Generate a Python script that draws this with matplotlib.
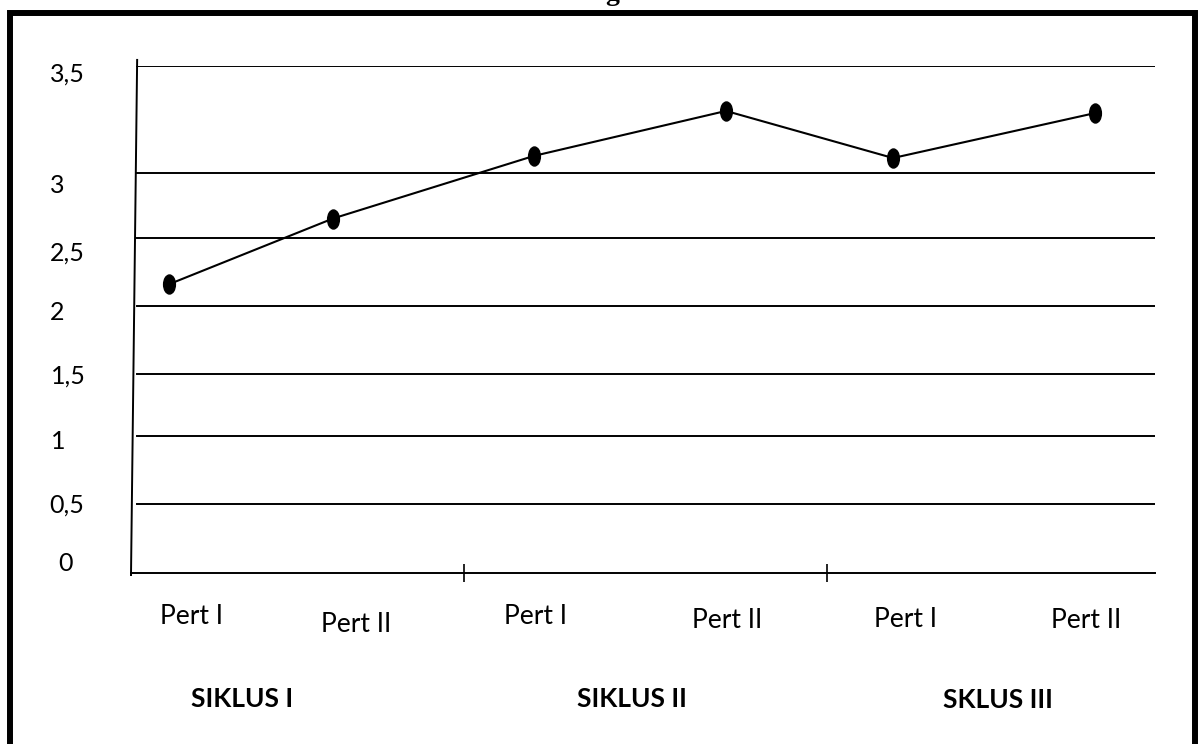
import numpy as np
import matplotlib
matplotlib.use("Agg")
import matplotlib.pyplot as plt
from matplotlib.path import Path
from matplotlib.transforms import Affine2D
from matplotlib.patches import Rectangle

# data
pertemuan = ["Pert I", "Pert II", "Pert I", "Pert II", "Pert I", "Pert II"]
nilai = [2.16, 2.65, 3.08, 3.29, 3.07, 3.28]
siklus = ["SIKLUS I", "SIKLUS II", "SKLUS III"]
y_ticks = [0, 0.5, 1, 1.5, 2, 2.5, 3, 3.5]
y_labels = ["0", "0,5", "1", "1,5", "2", "2,5", "3", "3,5"]

W, H = 1201, 744
ax_left, ax_right, ax_bottom, ax_top = 131, 1155, 573, 66

# hand drawn grid: spacing between lines is not even
grid_px = [573, 504, 436, 374, 306, 238, 173, 66]
grid_frac = [(ax_bottom - p) / (ax_bottom - ax_top) for p in grid_px]

def y_fwd(v):
    return np.interp(v, y_ticks, grid_frac)

def y_inv(f):
    return np.interp(f, grid_frac, y_ticks)

# x positions of the points are not evenly spaced either
x_knots = [-0.232, 0, 1, 1.5, 2, 3, 3.5, 4, 5, 5.3]
x_px = [131, 169, 333, 464, 534, 726, 827, 893, 1095, 1155]
x_frac = [(p - ax_left) / (ax_right - ax_left) for p in x_px]

def x_fwd(v):
    return np.interp(v, x_knots, x_frac)

def x_inv(f):
    return np.interp(f, x_frac, x_knots)

plt.rcParams['font.family'] = ['Lato', 'DejaVu Sans']

fig = plt.figure(figsize=(W / 100, H / 100), dpi=100)
ax = fig.add_axes([ax_left / W, 1 - ax_bottom / H,
                   (ax_right - ax_left) / W, (ax_bottom - ax_top) / H])
ax.set_xscale('function', functions=(x_fwd, x_inv))
ax.set_yscale('function', functions=(y_fwd, y_inv))
ax.set_xlim(x_knots[0], x_knots[-1])
ax.set_ylim(0, 3.5)

for s in ['top', 'right', 'left']:
    ax.spines[s].set_visible(False)
ax.spines['bottom'].set_linewidth(1.4)

# horizontal lines
for v in y_ticks[1:]:
    ax.axhline(v, xmin=0.006, xmax=1, color='black', lw=1.4)

# slanted y axis line
ax.plot([0.006, 0.0], [1.012, -0.004], color='black', lw=1.4,
        transform=ax.transAxes, clip_on=False)

# boundaries between cycles
ax.set_xticks([1.5, 3.5])
ax.set_xticklabels([])
ax.tick_params(axis='x', direction='inout', length=13, width=1.2)
ax.set_yticks([])

# ellipse marker
ellipse = Path.unit_circle().transformed(Affine2D().scale(0.62, 1.0))
x = np.arange(len(nilai))
ax.plot(x, nilai, color='black', lw=1.5, marker=ellipse, markersize=13.7,
        markerfacecolor='black', markeredgecolor='black', clip_on=False)

# y labels
y_dx = [-73, -82, -80, -80, -81, -81, -81, -81]
y_dy = [2, -9, -13, -10, -14, -23, -20, -16]
for v, lab, dx, dy in zip(y_ticks, y_labels, y_dx, y_dy):
    ax.annotate(lab, xy=(0, v), xycoords=('axes fraction', 'data'),
                xytext=(dx, dy), textcoords='offset pixels',
                ha='left', va='baseline', fontsize=18, annotation_clip=False)

# x labels
p_dx = [22, 23, 2, 1, 13, -9]
p_dy = [51, 59, 51, 55, 54, 55]
for i, lab in enumerate(pertemuan):
    ax.annotate(lab, xy=(i, 0), xytext=(p_dx[i], -p_dy[i]),
                textcoords='offset pixels', ha='center', va='baseline',
                fontsize=19, annotation_clip=False)

g_dx = [-9, 2, 4]
g_dy = [134, 134, 135]
for i, lab in enumerate(siklus):
    ax.annotate(lab, xy=(2 * i + 0.5, 0), xytext=(g_dx[i], -g_dy[i]),
                textcoords='offset pixels', ha='center', va='baseline',
                fontsize=19, fontweight='bold', annotation_clip=False)

# frame around the whole chart
fig.add_artist(Rectangle((10 / W, -0.05), (1194.5 - 10) / W, 1 - 13 / H + 0.05,
                         transform=fig.transFigure, fill=False,
                         edgecolor='black', lw=4.3))

# title, mostly above the page edge
fig.text(612 / W, 1.0, "g", ha='center', va='baseline', fontsize=20,
         fontweight='bold', family=['Liberation Serif', 'DejaVu Serif'])

fig.savefig('out.png', dpi=100)
